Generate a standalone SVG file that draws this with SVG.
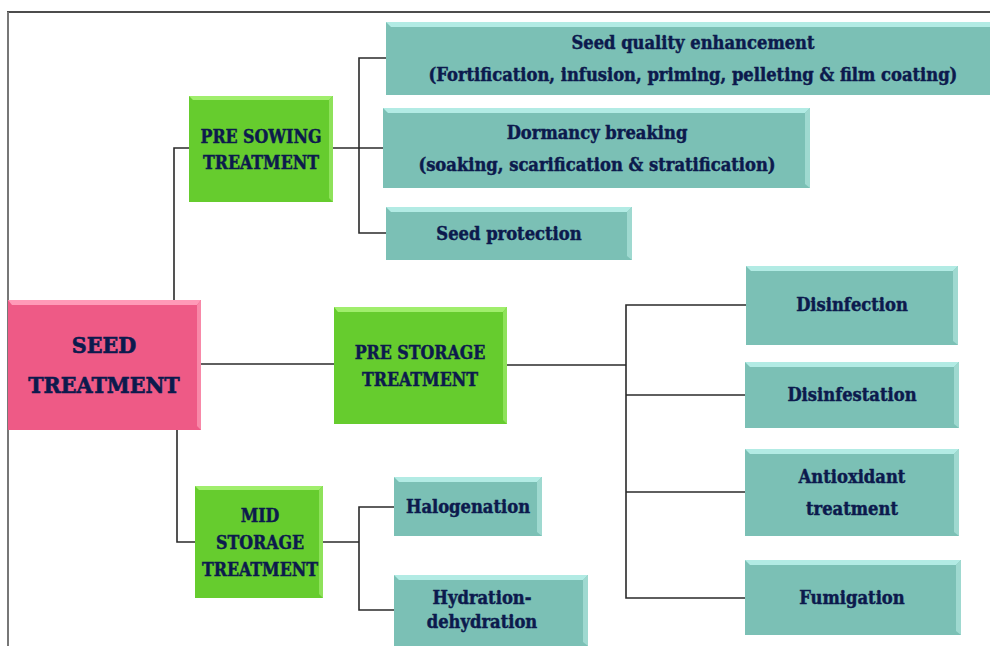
<svg xmlns="http://www.w3.org/2000/svg" width="990" height="646" viewBox="0 0 990 646">
<defs>
<style>
text{font-family:"DejaVu Serif Condensed","DejaVu Serif","Liberation Serif",serif;font-weight:bold;fill:#0c1a4d;stroke:#0c1a4d;stroke-width:0.45;text-anchor:middle;}
.t{font-size:18.2px;}
.g{font-size:17.6px;}
.p{font-size:23px;stroke-width:0.6;}
.teal{fill:#7bc0b5;}
.tealhi{fill:#b2ebe4;}
.tealsd{fill:#9fd9d0;}
.green{fill:#66cc2e;}
.greenhi{fill:#a0ee6c;}
.greensd{fill:#8ee25a;}
.pink{fill:#ee5a86;}
.pinkhi{fill:#ff9ab8;}
.pinksd{fill:#f888a8;}
.c{fill:none;stroke:#2a2a2a;stroke-width:1.6;}
</style>
</defs>
<rect width="990" height="646" fill="#ffffff"/>
<line x1="7" y1="12" x2="990" y2="12" stroke="#111" stroke-width="1.5"/>
<line x1="8" y1="12" x2="8" y2="646" stroke="#777" stroke-width="2"/>

<g id="connectors">
<polyline class="c" points="174,300 174,148 189,148"/>
<polyline class="c" points="333,148 384,148"/>
<polyline class="c" points="386,58 359,58 359,233 386,233"/>
<polyline class="c" points="200,364 335,364"/>
<polyline class="c" points="506,365 626,365"/>
<polyline class="c" points="746,305 626,305 626,598 746,598"/>
<polyline class="c" points="626,395 746,395"/>
<polyline class="c" points="626,492 746,492"/>
<polyline class="c" points="177,430 177,542 196,542"/>
<polyline class="c" points="323,542 359,542"/>
<polyline class="c" points="394,507 359,507 359,610 394,610"/>
</g>

<g id="seed-treatment">
<rect class="pink" x="8" y="300" width="193" height="130"/>
<polygon class="pinkhi" points="8,300 201,300 197,305 12,305"/>
<polygon class="pinksd" points="201,300 201,430 197,426 197,305"/>
<text class="p" x="104" y="353">SEED</text>
<text class="p" x="104" y="393">TREATMENT</text>
</g>

<g id="pre-sowing">
<rect class="green" x="189" y="96" width="144" height="106"/>
<polygon class="greenhi" points="189,96 333,96 329,100 193,100"/>
<polygon class="greensd" points="333,96 333,202 329,198 329,100"/>
<text class="g" x="261" y="143">PRE SOWING</text>
<text class="g" x="261" y="169">TREATMENT</text>
</g>

<g id="pre-storage">
<rect class="green" x="334" y="307" width="173" height="117"/>
<polygon class="greenhi" points="334,307 507,307 503,312 338,312"/>
<polygon class="greensd" points="507,307 507,424 503,420 503,312"/>
<text class="g" x="420" y="359">PRE STORAGE</text>
<text class="g" x="420" y="386">TREATMENT</text>
</g>

<g id="mid-storage">
<rect class="green" x="195" y="486" width="128" height="112"/>
<polygon class="greenhi" points="195,486 323,486 319,490 199,490"/>
<polygon class="greensd" points="323,486 323,598 319,594 319,490"/>
<text class="g" x="260" y="522">MID</text>
<text class="g" x="260" y="549">STORAGE</text>
<text class="g" x="260" y="576">TREATMENT</text>
</g>

<g id="seed-quality">
<rect class="teal" x="386" y="22" width="604" height="73"/>
<polygon class="tealhi" points="386,22 990,22 990,27 391,27"/>
<text class="t" x="693" y="49">Seed quality enhancement</text>
<text class="t" x="693" y="81">(Fortification, infusion, priming, pelleting &amp; film coating)</text>
</g>

<g id="dormancy">
<rect class="teal" x="383" y="108" width="427" height="80"/>
<polygon class="tealhi" points="383,108 810,108 805,113 388,113"/>
<polygon class="tealsd" points="810,108 810,188 805,184 805,113"/>
<text class="t" x="597" y="139">Dormancy breaking</text>
<text class="t" x="597" y="171">(soaking, scarification &amp; stratification)</text>
</g>

<g id="seed-protection">
<rect class="teal" x="386" y="207" width="246" height="53"/>
<polygon class="tealhi" points="386,207 632,207 627,212 391,212"/>
<polygon class="tealsd" points="632,207 632,260 627,256 627,212"/>
<text class="t" x="509" y="240">Seed protection</text>
</g>

<g id="disinfection">
<rect class="teal" x="746" y="266" width="212" height="79"/>
<polygon class="tealhi" points="746,266 958,266 953,271 751,271"/>
<polygon class="tealsd" points="958,266 958,345 953,341 953,271"/>
<text class="t" x="852" y="311">Disinfection</text>
</g>

<g id="disinfestation">
<rect class="teal" x="745" y="362" width="214" height="66"/>
<polygon class="tealhi" points="745,362 959,362 954,367 750,367"/>
<polygon class="tealsd" points="959,362 959,428 954,424 954,367"/>
<text class="t" x="852" y="401">Disinfestation</text>
</g>

<g id="antioxidant">
<rect class="teal" x="745" y="449" width="214" height="87"/>
<polygon class="tealhi" points="745,449 959,449 954,454 750,454"/>
<polygon class="tealsd" points="959,449 959,536 954,532 954,454"/>
<text class="t" x="852" y="483">Antioxidant</text>
<text class="t" x="852" y="515">treatment</text>
</g>

<g id="fumigation">
<rect class="teal" x="745" y="560" width="216" height="75"/>
<polygon class="tealhi" points="745,560 961,560 956,565 750,565"/>
<polygon class="tealsd" points="961,560 961,635 956,631 956,565"/>
<text class="t" x="852" y="604">Fumigation</text>
</g>

<g id="halogenation">
<rect class="teal" x="394" y="477" width="148" height="59"/>
<polygon class="tealhi" points="394,477 542,477 537,482 399,482"/>
<polygon class="tealsd" points="542,477 542,536 537,532 537,482"/>
<text class="t" x="468" y="513">Halogenation</text>
</g>

<g id="hydration">
<rect class="teal" x="394" y="575" width="194" height="71"/>
<polygon class="tealhi" points="394,575 588,575 583,580 399,580"/>
<polygon class="tealsd" points="588,575 588,646 583,642 583,580"/>
<text class="t" x="482" y="604">Hydration-</text>
<text class="t" x="482" y="628">dehydration</text>
</g>
</svg>
